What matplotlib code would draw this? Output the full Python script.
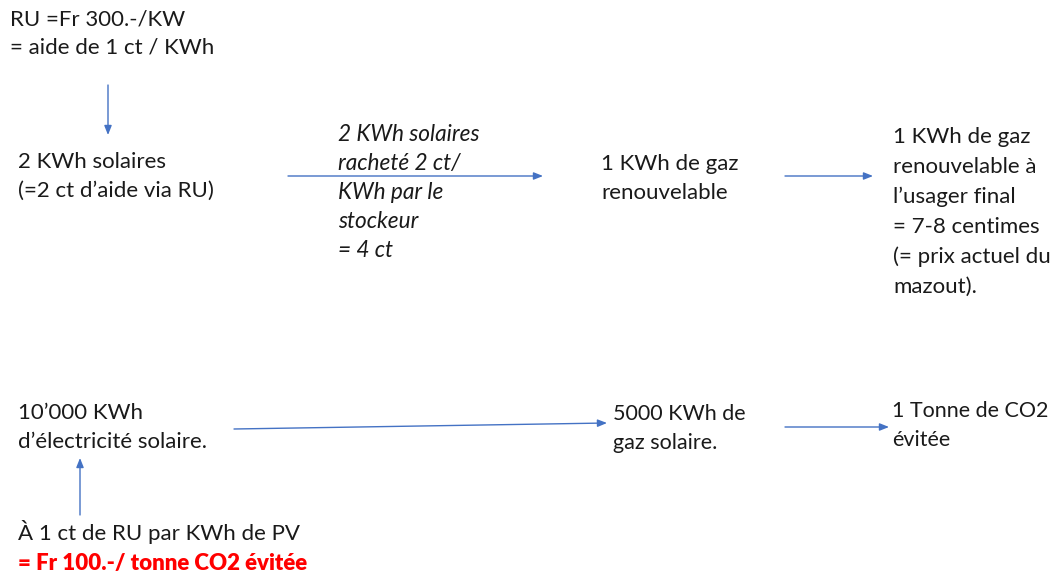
import matplotlib
matplotlib.use('Agg')
import matplotlib.pyplot as plt

# texte des blocs (une entrée par ligne)
bloc_ru = ['RU =Fr 300.-/KW', '= aide de 1 ct / KWh']
bloc_solaire = ['2 KWh solaires', '(=2 ct d\u2019aide via RU)']
bloc_rachat = ['2 KWh solaires', 'racheté 2 ct/', 'KWh par le', 'stockeur', '= 4 ct']
bloc_gaz = ['1 KWh de gaz', 'renouvelable']
bloc_usager = ['1 KWh de gaz', 'renouvelable à', 'l\u2019usager final', '= 7-8 centimes',
               '(= prix actuel du', 'mazout).']
bloc_elec = ['10\u2019000 KWh', 'd\u2019électricité solaire.']
bloc_gaz_sol = ['5000 KWh de', 'gaz solaire.']
bloc_co2 = ['1 Tonne de CO2', 'évitée']
bloc_pv = ['À 1 ct de RU par KWh de PV']
bloc_prix = ['= Fr 100.-/ tonne CO2 évitée']

W, H = 1056, 577
fig = plt.figure(figsize=(W / 100, H / 100), dpi=100)
ax = fig.add_axes([0, 0, 1, 1])
ax.set_xlim(0, W)
ax.set_ylim(H, 0)
ax.axis('off')

plt.rcParams['font.family'] = ['Lato', 'DejaVu Sans']
FS = 16
BLEU = '#4472C4'


def bloc(lignes, x, y0, pas=29, **kw):
    for i, l in enumerate(lignes):
        ax.text(x, y0 + i * pas, l, fontsize=kw.get('fs', FS), va='baseline', ha='left',
                color=kw.get('color', '#1a1a1a'), style=kw.get('style', 'normal'),
                weight=kw.get('weight', 'normal'))


def fleche(x0, y0, x1, y1):
    ax.annotate('', xy=(x1, y1), xytext=(x0, y0),
                arrowprops=dict(arrowstyle='-|>,head_length=0.55,head_width=0.22',
                                color=BLEU, lw=1.0, shrinkA=0, shrinkB=0))


bloc(bloc_ru, 10, 25)
bloc(bloc_solaire, 18, 168)
bloc(bloc_rachat, 338, 141, style='italic', fs=16.3)
bloc(bloc_gaz, 601, 170)
bloc(bloc_usager, 893, 143, pas=30)
bloc(bloc_elec, 18, 419)
bloc(bloc_gaz_sol, 613, 420, fs=15.5)
bloc(bloc_co2, 892, 417, fs=15.5)
bloc(bloc_pv, 18, 540)
bloc(bloc_prix, 18, 570, color='#FF0000', weight='heavy')

fleche(108, 85, 108, 135)
fleche(288, 176, 543, 176)
fleche(785, 176, 873, 176)
fleche(234, 429, 607, 423)
fleche(785, 427, 889, 427)
fleche(80, 515, 80, 458)

fig.savefig('out.png', dpi=100)
